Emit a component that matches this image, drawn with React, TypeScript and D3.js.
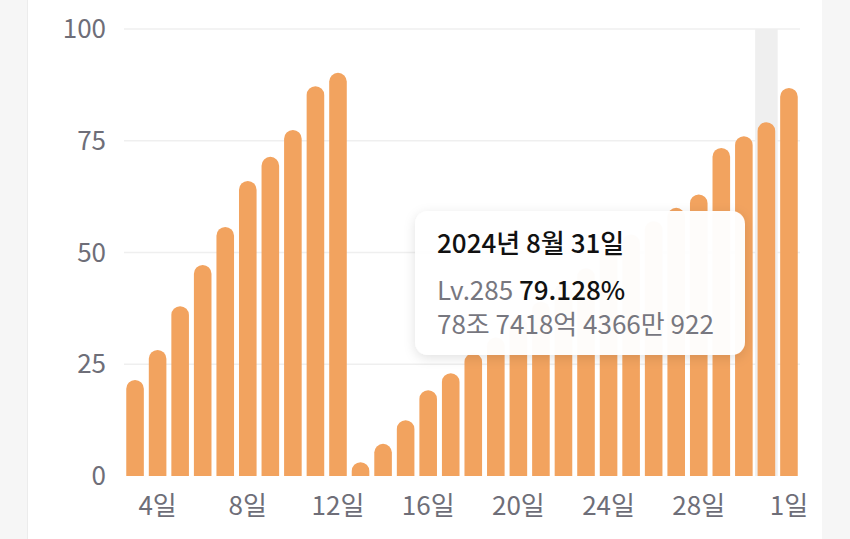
import React from "react";
import * as d3 from "d3";

const days = [3,4,5,6,7,8,9,10,11,12,13,14,15,16,17,18,19,20,21,22,23,24,25,26,27,28,29,30,31,1];
const values = [21.5,28.2,38,47.2,55.7,66,71.4,77.4,87.2,90.2,3.1,7.2,12.5,19.2,23,27.5,31,35.5,39,43,46.5,50.5,54,57,60,63,73.4,76,79.128,86.8];
const tickDays = [4,8,12,16,20,24,28,1];
const yTicks = [0,25,50,75,100];
const highlightIndex = 28;
const tipTitle = "2024년 8월 31일";
const tipLevel = "Lv.285";
const tipPct = "79.128%";
const tipExp = "78조 7418억 4366만 922";

const W = 850, H = 539;
const FONT = "'Noto Sans CJK KR', 'Noto Sans', sans-serif";

export default function App() {
  const x = d3.scaleBand<number>().domain(d3.range(days.length)).range([124, 800]).paddingInner(0.22).paddingOuter(0.1);
  const y = d3.scaleLinear().domain([0, 100]).range([476, 29]);
  const bw = x.bandwidth();
  const r = bw / 2;
  const barPath = (i: number) => {
    const x0 = x(i)!;
    const y0 = y(values[i]);
    const yb = y(0);
    const h = yb - y0;
    const rr = Math.min(r, h);
    const p = d3.path();
    p.moveTo(x0, yb);
    p.lineTo(x0, y0 + rr);
    p.arcTo(x0, y0, x0 + rr, y0, rr);
    p.lineTo(x0 + bw - rr, y0);
    p.arcTo(x0 + bw, y0, x0 + bw, y0 + rr, rr);
    p.lineTo(x0 + bw, yb);
    p.closePath();
    return p.toString();
  };
  const hx = x(highlightIndex)!;
  const step = x.step();
  return (
    <svg width={W} height={H} style={{ position: "absolute", left: 0, top: 0 }} fontFamily={FONT}>
      <defs>
        <filter id="sh" x="-20%" y="-20%" width="140%" height="150%">
          <feDropShadow dx="0" dy="3" stdDeviation="6" floodColor="#000" floodOpacity="0.12" />
        </filter>
      </defs>
      <rect x={0} y={0} width={W} height={H} fill="#f6f6f6" />
      <rect x={28} y={0} width={794} height={H} fill="#ffffff" />
      <line x1={27.5} x2={27.5} y1={0} y2={H} stroke="#ececec" />
      {yTicks.map(t => (
        <g key={t}>
          {t > 0 && <line x1={124} x2={800} y1={y(t)} y2={y(t)} stroke="#efefef" strokeWidth={1.5} />}
          <text x={106} y={y(t)} dy="0.35em" textAnchor="end" fontSize={26} fill="#6e6e78">{t}</text>
        </g>
      ))}
      <rect x={hx - (step - bw) / 2} y={y(100)} width={step} height={y(0) - y(100)} fill="#efefef" />
      {values.map((v, i) => (
        <path key={i} d={barPath(i)} fill="#f2a35f" />
      ))}
      {tickDays.map((d, k) => {
        const i = days.indexOf(d, d === 1 ? 20 : 0);
        return (
          <text key={k} x={x(i)! + bw / 2} y={515} textAnchor="middle" fontSize={26} fill="#6e6e78">{d}일</text>
        );
      })}
      <g filter="url(#sh)">
        <rect x={415} y={211} width={330} height={144} rx={13} fill="#ffffff" fillOpacity={0.97} />
      </g>
      <text x={437} y={253} fontSize={26} fontWeight={500} fill="#111">{tipTitle}</text>
      <text x={437} y={300} fontSize={26}>
        <tspan fill="#77777f">{tipLevel} </tspan>
        <tspan fill="#111" fontWeight={500}>{tipPct}</tspan>
      </text>
      <text x={437} y={334} fontSize={26} fill="#77777f">{tipExp}</text>
    </svg>
  );
}
